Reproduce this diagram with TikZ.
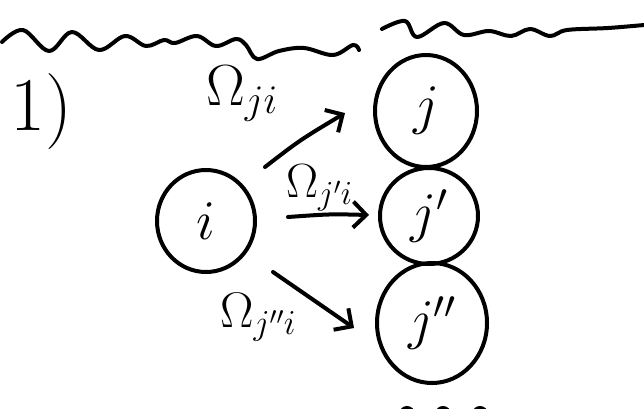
\RequirePackage{fix-cm}
\documentclass[tikz,border=0pt]{standalone}
\usetikzlibrary{shapes.geometric,arrows.meta}
\begin{document}
\begin{tikzpicture}[x=1pt,y=-1pt,
  ink/.style={line width=4pt, line cap=round, line join=round},
  blob/.style={ink, draw, ellipse, inner sep=0pt, font=\fontsize{56}{62}\selectfont},
  lbl/.style={anchor=base west, inner sep=0pt},
  arr/.style={ink, -{Straight Barb[length=13pt,width=26pt,line width=4pt]}}]
\useasboundingbox (0,0) rectangle (644,408);
% wavy lines
\draw[ink] plot[smooth, tension=0.6] coordinates {(2,42) (23,30) (49,51) (72,32) (99,50) (125,36) (146,46) (164,40) (175,43) (197,36) (216,46) (236,39) (246,45) (257,59) (279,51) (304,48) (333,55) (353,45) (359,50)};
\draw[ink] plot[smooth, tension=0.6] coordinates {(382,29) (405,21) (417,37) (444,23) (464,35) (489,31) (511,36) (530,29) (550,36) (567,30) (608,28) (644,25)};
% label 1)
\node[lbl, font=\fontsize{76}{80}\selectfont] (num) at (10,130) {1)};
% nodes
\node[blob, minimum width=98pt, minimum height=102pt] (i) at (206,221) {$i$};
\node[blob, minimum width=102pt, minimum height=112pt] (j) at (426,111) {$j$};
\node[blob, minimum width=98pt, minimum height=96pt] (j1) at (429,216) {$j'$};
\node[blob, minimum width=110pt, minimum height=120pt] (j2) at (432,323) {$j''$};
% arrow endpoints
\coordinate (s1) at (265,167); \coordinate (e1) at (345,113);
\coordinate (s2) at (288,217); \coordinate (e2) at (369,215);
\coordinate (s3) at (273,272); \coordinate (e3) at (354,328);
\draw[arr] (s1) .. controls (300,140) .. (e1);
\draw[arr] (s2) .. controls (330,214) .. (e2);
\draw[arr] (s3) -- (e3);
% labels
\node[lbl, font=\fontsize{58}{62}\selectfont] (l1) at (206,105) {$\Omega_{ji}$};
\node[lbl, font=\fontsize{48}{54}\selectfont] (l2) at (286,197) {$\Omega_{j'i}$};
\node[lbl, font=\fontsize{50}{56}\selectfont] (l3) at (220,327) {$\Omega_{j''i}$};
% cut-off marks at bottom edge
\draw[ink] (407,414) circle (6pt);
\draw[ink] (443,414) circle (6pt);
\draw[ink] (480,414) circle (6pt);
\end{tikzpicture}
\end{document}
